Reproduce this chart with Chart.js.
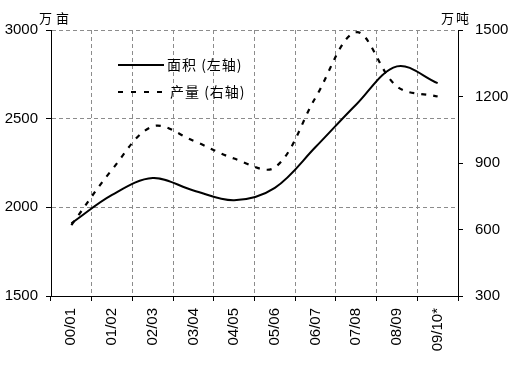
<!DOCTYPE html>
<html>
<head>
<meta charset="utf-8">
<script src="https://cdn.jsdelivr.net/npm/chart.js@4/dist/chart.umd.min.js"></script>
<style>
html,body{margin:0;padding:0;background:#fff;}
#c{display:block;}
</style>
</head>
<body>
<canvas id="c" width="513" height="375"></canvas>
<script>
const categories = ['00/01','01/02','02/03','03/04','04/05','05/06','06/07','07/08','08/09','09/10*'];
const areaValues = [1910, 2070, 2165, 2095, 2040, 2110, 2340, 2580, 2795, 2700];
const productionValues = [620, 870, 1065, 1000, 920, 880, 1195, 1490, 1245, 1200];
const leftTicks = [1500, 2000, 2500, 3000];
const rightTicks = [300, 600, 900, 1200, 1500];
const seriesNames = ['面积 (左轴)', '产量 (右轴)'];
const leftUnit = '万亩';
const rightUnit = '万吨';

const GRID = '#8c8c8c';
const FONT = '"Liberation Sans", Arial, sans-serif';
const CJK = '"Noto Sans CJK SC", sans-serif';

const overlay = {
  id: 'overlay',
  afterDraw(chart) {
    const ctx = chart.ctx;
    const a = chart.chartArea;
    ctx.save();
    ctx.fillStyle = '#000';
    ctx.textBaseline = 'middle';
    ctx.textAlign = 'left';
    ctx.font = '13px ' + CJK;
    ctx.letterSpacing = '4px';
    ctx.fillText(leftUnit, a.left - 12, 18);
    ctx.letterSpacing = '2px';
    ctx.fillText(rightUnit, a.right - 17, 18);
    // legend
    const lx = a.left + 67, ly1 = a.top + 35, ly2 = a.top + 62;
    ctx.strokeStyle = '#000';
    ctx.lineWidth = 2;
    ctx.beginPath(); ctx.moveTo(lx, ly1); ctx.lineTo(lx + 46, ly1); ctx.stroke();
    ctx.setLineDash([5, 8]);
    ctx.beginPath(); ctx.moveTo(lx, ly2); ctx.lineTo(lx + 46, ly2); ctx.stroke();
    ctx.setLineDash([]);
    ctx.font = '14px ' + CJK;
    ctx.letterSpacing = '1px';
    ctx.fillText(seriesNames[0], lx + 49, ly1);
    ctx.fillText(seriesNames[1], lx + 52, ly2);
    ctx.restore();
  }
};

new Chart(document.getElementById('c'), {
  type: 'line',
  data: {
    labels: categories,
    datasets: [
      { label: seriesNames[0], data: areaValues, yAxisID: 'y', borderColor: '#000', borderWidth: 2, pointRadius: 0, tension: 0.35, fill: false },
      { label: seriesNames[1], data: productionValues, yAxisID: 'y1', borderColor: '#000', borderWidth: 2.2, borderDash: [5, 7], pointRadius: 0, tension: 0.35, fill: false }
    ]
  },
  options: {
    responsive: false,
    animation: false,
    devicePixelRatio: 1,
    layout: { padding: { top: 30, left: 0, right: 0, bottom: 0 } },
    plugins: { legend: { display: false }, tooltip: { enabled: false } },
    scales: {
      x: {
        offset: true,
        grid: {
          offset: true,
          color: (c) => (c.index === 0 || c.index === categories.length) ? 'rgba(0,0,0,0)' : GRID,
          tickColor: '#000',
          tickLength: 5,
          tickBorderDash: [],
          lineWidth: 1
        },
        border: { display: true, color: '#000', width: 1, dash: [4, 3] },
        ticks: { color: '#000', font: { family: FONT, size: 15 }, minRotation: 90, maxRotation: 90, padding: 7, autoSkip: false },
        afterFit: (s) => { s.height = 79; }
      },
      y: {
        position: 'left',
        min: 1500, max: 3000,
        afterBuildTicks: (s) => { s.ticks = leftTicks.map(v => ({ value: v })); },
        grid: {
          color: (c) => (c.tick && c.tick.value === 1500) ? 'rgba(0,0,0,0)' : GRID,
          tickColor: '#000',
          tickLength: 5,
          tickBorderDash: []
        },
        border: { display: true, color: '#000', width: 1, dash: [4, 3] },
        ticks: { color: '#000', font: { family: FONT, size: 15 }, padding: 8, callback: (v) => String(v) },
        afterFit: (s) => { s.width = 51; }
      },
      y1: {
        position: 'right',
        min: 300, max: 1500,
        afterBuildTicks: (s) => { s.ticks = rightTicks.map(v => ({ value: v })); },
        grid: { drawOnChartArea: false, tickColor: '#000', tickLength: 5, tickBorderDash: [] },
        border: { display: true, color: '#000', width: 1 },
        ticks: { color: '#000', font: { family: FONT, size: 15 }, padding: 12, callback: (v) => String(v) },
        afterFit: (s) => { s.width = 55; }
      }
    }
  },
  plugins: [overlay]
});
</script>
</body>
</html>
